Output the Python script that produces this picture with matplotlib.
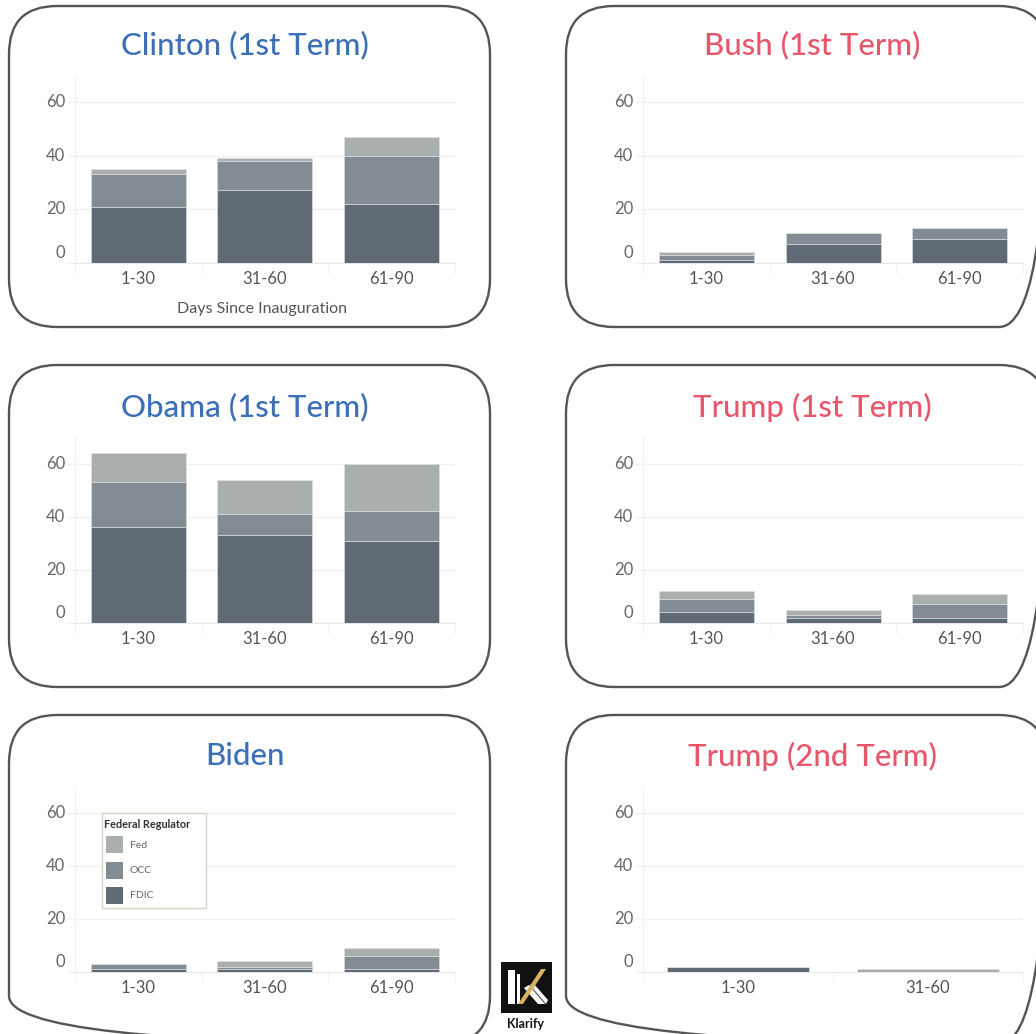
import matplotlib
matplotlib.use("Agg")
import matplotlib.pyplot as plt
from matplotlib.patches import FancyBboxPatch, Rectangle, Polygon

plt.rcParams['font.family'] = ['Lato', 'DejaVu Sans']

# ---------------- data ----------------
regulators = ["Fed", "OCC", "FDIC"]
cats3 = ["1-30", "31-60", "61-90"]
cats2 = ["1-30", "31-60"]

clinton_fdic = [21, 27, 22]
clinton_occ = [12, 11, 18]
clinton_fed = [2, 1, 7]

bush_fdic = [1, 7, 9]
bush_occ = [2, 4, 4]
bush_fed = [1, 0, 0]

obama_fdic = [36, 33, 31]
obama_occ = [17, 8, 11]
obama_fed = [11, 13, 18]

trump1_fdic = [4, 2, 2]
trump1_occ = [5, 1, 5]
trump1_fed = [3, 2, 4]

biden_fdic = [1, 1, 1]
biden_occ = [2, 1, 5]
biden_fed = [0, 2, 3]

trump2_fdic = [2, 0]
trump2_occ = [0, 0]
trump2_fed = [0, 1]

titles = ["Clinton (1st Term)", "Bush (1st Term)", "Obama (1st Term)",
          "Trump (1st Term)", "Biden", "Trump (2nd Term)"]
yticks = [0, 20, 40, 60]

# ---------------- style ----------------
col = {"FDIC": "#5f6a74", "OCC": "#848c93", "Fed": "#a9afaf"}
blue = "#3b6fb6"
red = "#e8566b"
W, H = 1036, 1034

fig = plt.figure(figsize=(W / 100, H / 100), dpi=100)
fig.patch.set_facecolor("white")

overlay = fig.add_axes([0, 0, 1, 1], zorder=0)
overlay.set_xlim(0, W)
overlay.set_ylim(H, 0)
overlay.axis("off")
overlay.patch.set_alpha(0)

top = fig.add_axes([0, 0, 1, 1], zorder=10)
top.set_xlim(0, W)
top.set_ylim(H, 0)
top.axis("off")
top.patch.set_alpha(0)


def ax_px(x0, y0, x1, y1):
    a = fig.add_axes([x0 / W, 1 - y1 / H, (x1 - x0) / W, (y1 - y0) / H], zorder=2)
    return a


boxes = [(9, 6, 490, 327), (566, 6, 1047, 327),
         (9, 365, 490, 687), (566, 365, 1047, 687),
         (9, 715, 490, 1044), (566, 715, 1047, 1044)]
for (x0, y0, x1, y1) in boxes:
    overlay.add_patch(FancyBboxPatch((x0, y0), x1 - x0, y1 - y0,
                                     boxstyle="round,pad=0,rounding_size=48",
                                     facecolor="none", edgecolor="#555555", lw=1.7))

panels = [
    (cats3, clinton_fdic, clinton_occ, clinton_fed),
    (cats3, bush_fdic, bush_occ, bush_fed),
    (cats3, obama_fdic, obama_occ, obama_fed),
    (cats3, trump1_fdic, trump1_occ, trump1_fed),
    (cats3, biden_fdic, biden_occ, biden_fed),
    (cats2, trump2_fdic, trump2_occ, trump2_fed),
]
rows = [(75, 263), (437, 623), (786, 972)]
cols_x = [(75, 455), (643, 1023)]
title_y = [45, 407, 756]
title_x = [245, 812]
title_col = [blue, red, blue, red, blue, red]

for i, (cats, fdic, occ, fed) in enumerate(panels):
    r, c = divmod(i, 2)
    (x0, x1), (y0, y1) = cols_x[c], rows[r]
    ax = ax_px(x0, y0, x1, y1)
    n = len(cats)
    xs = list(range(n))
    bw = 0.75 if n == 3 else 0.745
    bottom2 = [a + b for a, b in zip(fdic, occ)]
    ax.bar(xs, fdic, bw, color=col["FDIC"], edgecolor="#dfe3e6", lw=0.4, zorder=3)
    ax.bar(xs, occ, bw, bottom=fdic, color=col["OCC"], edgecolor="#dfe3e6", lw=0.4, zorder=3)
    ax.bar(xs, fed, bw, bottom=bottom2, color=col["Fed"], edgecolor="#dfe3e6", lw=0.4, zorder=3)
    ax.set_xlim(-0.5, n - 0.5)
    ax.set_ylim(0, 70)
    ax.set_yticks(yticks)
    ax.yaxis.grid(True, color="#f0f0f0", lw=1)
    ax.set_axisbelow(True)
    ax.tick_params(axis="y", labelleft=False, length=6, color="#f0f0f0")
    for v in yticks:
        off = 10 if v == 0 else 0
        ax.annotate(str(v), xy=(0, v), xycoords=("axes fraction", "data"),
                    xytext=(-7.2, off * 0.72), textcoords="offset points",
                    ha="right", va="center", fontsize=12, color="#666666")
    ax.set_xticks(xs)
    ax.set_xticklabels(cats, fontsize=12, color="#555555")
    ax.tick_params(axis="x", length=0, pad=6)
    ax.set_xticks([k - 0.5 for k in range(n + 1)], minor=True)
    ax.tick_params(axis="x", which="minor", length=7, color="#eeeeee")
    for s in ["top", "right"]:
        ax.spines[s].set_visible(False)
    ax.spines["left"].set_color("#f0f0f0")
    ax.spines["bottom"].set_color("#e8e8e8")
    ax.patch.set_alpha(0)
    fig.text(title_x[c] / W, 1 - title_y[r] / H, titles[i], ha="center", va="center",
             fontsize=22.5, color=title_col[i], fontweight="medium")

fig.text(262 / W, 1 - 309 / H, "Days Since Inauguration", ha="center", va="center",
         fontsize=11.5, color="#555555")

# legend (Biden panel)
top.add_patch(Rectangle((102, 813), 104, 95, facecolor="white",
                        edgecolor="#d6d6c6", lw=1, zorder=5))
top.text(104, 824, "Federal Regulator", fontsize=7.8, fontweight="bold",
         color="#333333", ha="left", va="center", zorder=6)
for k, name in enumerate(regulators):
    yy = 836 + k * 25.5
    top.add_patch(Rectangle((106, yy), 17, 17, facecolor=col[name],
                            edgecolor="none", zorder=6))
    top.text(130, yy + 9, name, fontsize=7.5, color="#666666",
             ha="left", va="center", zorder=6)

# Klarify logo
top.add_patch(Rectangle((501, 962), 51, 51, facecolor="#111111", zorder=5))
top.add_patch(Polygon([(508, 970), (515, 970), (515, 1004), (508, 1004)],
                      facecolor="white", zorder=6))
top.add_patch(Polygon([(517, 974), (520, 974), (520, 1004), (517, 1004)],
                      facecolor="white", zorder=6))
top.add_patch(Polygon([(524, 988), (529, 985), (545, 1004), (538, 1004)],
                      facecolor="white", zorder=6))
top.add_patch(Polygon([(530, 985), (533, 983), (548, 1000), (546, 1004)],
                      facecolor="white", zorder=6))
top.add_patch(Polygon([(518, 1004), (541, 969), (546, 969), (523, 1004)],
                      facecolor="#d6b160", zorder=7))
top.text(526, 1024, "Klarify", fontsize=9, fontweight="bold", color="#111111",
         ha="center", va="center", zorder=6)

fig.savefig("out.png", dpi=100, facecolor="white")
